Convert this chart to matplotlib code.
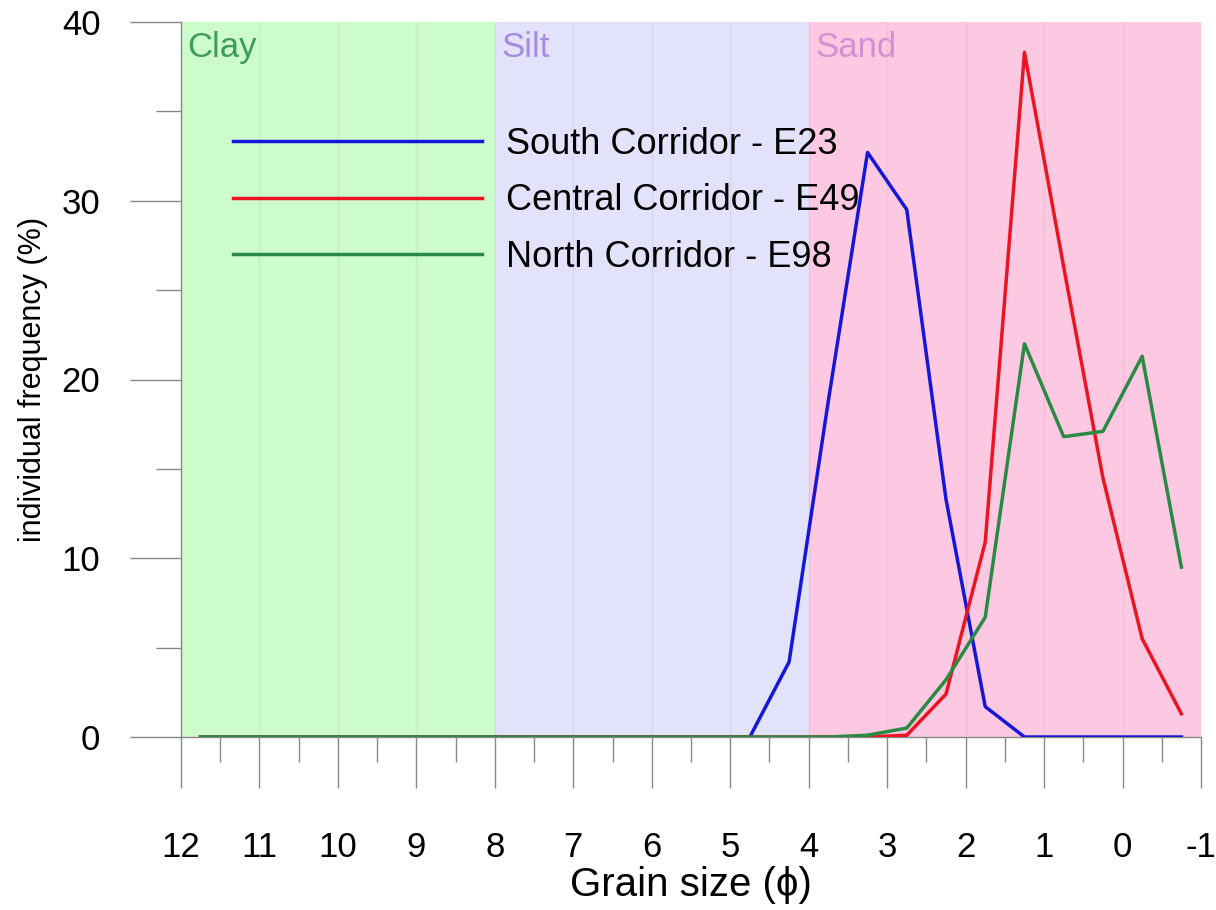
import matplotlib.pyplot as plt
import numpy as np

plt.rcParams['font.family'] = ['Liberation Sans', 'DejaVu Sans']

# grain size classes (phi)
phi = [11.75, 11.25, 10.75, 10.25, 9.75, 9.25, 8.75, 8.25, 7.75, 7.25, 6.75, 6.25,
       5.75, 5.25, 4.75, 4.25, 3.75, 3.25, 2.75, 2.25, 1.75, 1.25, 0.75, 0.25,
       -0.25, -0.75]

south_e23 = [0, 0, 0, 0, 0, 0, 0, 0, 0, 0, 0, 0,
             0, 0, 0, 4.2, 18.8, 32.7, 29.5, 13.3, 1.7, 0, 0, 0,
             0, 0]
central_e49 = [0, 0, 0, 0, 0, 0, 0, 0, 0, 0, 0, 0,
               0, 0, 0, 0, 0, 0, 0.1, 2.4, 10.9, 38.3, 26.3, 14.5,
               5.5, 1.3]
north_e98 = [0, 0, 0, 0, 0, 0, 0, 0, 0, 0, 0, 0,
             0, 0, 0, 0, 0, 0.1, 0.5, 3.2, 6.7, 22.0, 16.8, 17.1,
             21.3, 9.5]

classes = ['Clay', 'Silt', 'Sand']
class_bounds = [(12, 8), (8, 4), (4, -1)]
class_fill = ['#ccfccc', '#e2e2fa', '#fcc8e2']
class_text = ['#3f9a5e', '#a58ce0', '#d68fd0']

fig = plt.figure(figsize=(12.16, 9.1), dpi=100)
ax = fig.add_axes([181/1216, 1 - 737/910, 1020/1216, 715/910])

for (a, b), fc, tc, name in zip(class_bounds, class_fill, class_text, classes):
    ax.axvspan(a, b, color=fc, zorder=0, lw=0)
    ax.text(a - 0.08, 39.5, name, color=tc, fontsize=25, va='top', ha='left')

# faint vertical grid
for g in range(-1, 12):
    ax.axvline(g, color='#999999', alpha=0.15, lw=1, zorder=1)

ax.plot(phi, south_e23, color='#1616d8', lw=2.5, label='South Corridor - E23', zorder=3)
ax.plot(phi, central_e49, color='#ea1520', lw=2.5, label='Central Corridor - E49', zorder=3)
ax.plot(phi, north_e98, color='#2a8a44', lw=2.5, label='North Corridor - E98', zorder=4)

ax.set_xlim(12, -1)
ax.set_ylim(0, 40)

ax.set_xticks(np.arange(12, -2, -1))
ax.set_xticks(np.arange(11.5, -1, -1), minor=True)
ax.set_xticklabels([str(v) for v in range(12, -2, -1)])
ax.set_yticks([0, 10, 20, 30, 40])
ax.set_yticks([5, 15, 25, 35], minor=True)

ax.tick_params(axis='x', which='major', direction='out', length=37, width=1, color='#888888',
               labelsize=25, pad=31)
ax.tick_params(axis='x', which='minor', direction='out', length=18, width=1, color='#888888')
ax.tick_params(axis='y', which='major', direction='out', length=37, width=1, color='#888888',
               labelsize=25, pad=21)
ax.tick_params(axis='y', which='minor', direction='out', length=18, width=1, color='#888888')

for s in ['top', 'right']:
    ax.spines[s].set_visible(False)
for s in ['left', 'bottom']:
    ax.spines[s].set_color('#888888')
    ax.spines[s].set_linewidth(1)

ax.set_xlabel('Grain size (ϕ)', fontsize=29)
ax.xaxis.set_label_coords(0.5, -0.207)
ax.xaxis.label.set_va('center')
ax.set_ylabel('individual frequency (%)', fontsize=22)
ax.yaxis.set_label_coords(-0.145, 0.5)
ax.yaxis.label.set_va('center')

ax.legend(loc='upper left', bbox_to_anchor=(0.019, 0.899), frameon=False, fontsize=26,
          handlelength=6.9, handletextpad=0.66, labelspacing=0.6)

fig.savefig('out.png', dpi=100)
